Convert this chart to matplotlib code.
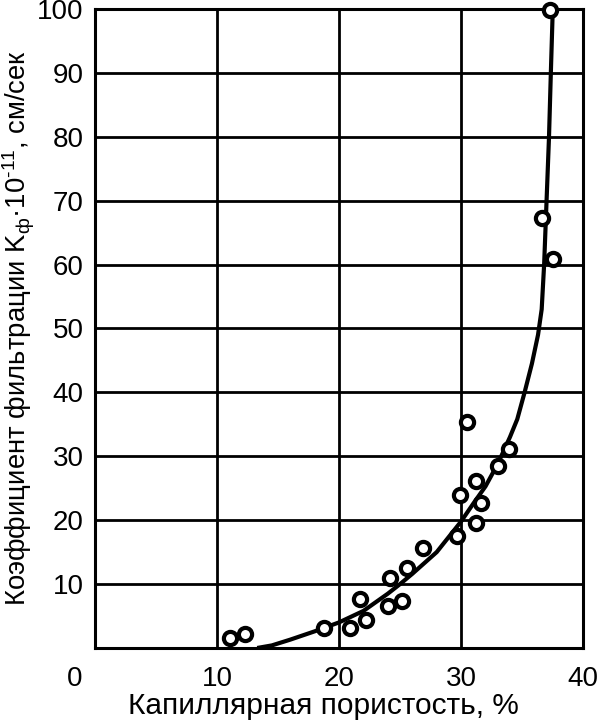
import matplotlib
matplotlib.use("Agg")
import matplotlib.pyplot as plt
from matplotlib.transforms import blended_transform_factory

plt.rcParams['font.family'] = ['Liberation Sans', 'DejaVu Sans']
plt.rcParams['mathtext.fontset'] = 'custom'
plt.rcParams['mathtext.rm'] = 'Liberation Sans'
plt.rcParams['mathtext.it'] = 'Liberation Sans:italic'
plt.rcParams['mathtext.bf'] = 'Liberation Sans:bold'

# measured points: capillary porosity (%) vs filtration coefficient
porosity = [11.1, 12.3, 18.8, 20.9, 21.7, 22.2, 24.2, 24.0, 25.2, 25.6, 26.9,
            29.7, 29.9, 30.5, 31.2, 31.2, 31.6, 33.0, 33.9, 36.6, 37.5, 37.3]
kf = [1.5, 2.2, 3.1, 3.1, 7.6, 4.4, 11.0, 6.5, 7.3, 12.5, 15.6,
      17.6, 23.9, 35.4, 26.1, 19.5, 22.7, 28.5, 31.1, 67.3, 60.8, 99.8]

# fitted curve
curve_x = [13.3, 14.5, 16.0, 18.0, 20.0, 22.0, 24.0, 25.0, 26.0, 28.0, 30.0,
           31.0, 32.0, 33.0, 34.0, 34.6, 35.2, 35.8, 36.3, 36.6, 36.8, 37.0,
           37.2, 37.35, 37.5]
curve_y = [0.0, 0.4, 1.3, 2.6, 4.0, 5.8, 8.5, 10.0, 11.6, 15.0, 19.8,
           22.6, 25.3, 28.8, 33.0, 35.8, 40.0, 44.5, 49.0, 53.0, 60.0, 70.0,
           80.0, 90.0, 99.5]

xticks = [10, 20, 30, 40]
yticks = [10, 20, 30, 40, 50, 60, 70, 80, 90, 100]

xlabel = 'Капиллярная пористость, %'
ylabel = 'Коэффициент фильтрации K$_{\\mathrm{ф}}$·10$^{\\mathrm{\u201011}}$, см/сек'

fig = plt.figure(figsize=(6.0, 7.24), dpi=100)
ax = fig.add_axes([0.158, 0.105, 0.814, 0.8826])

ax.set_xlim(0, 40)
ax.set_ylim(0, 100)
ax.set_xticks(xticks)
ax.set_yticks(yticks)
ax.grid(True, color='black', linewidth=2.0)
ax.set_axisbelow(True)
for s in ax.spines.values():
    s.set_linewidth(2.2)
    s.set_color('black')
ax.tick_params(length=0, labelsize=20, colors='black')
ax.tick_params(axis='x', pad=13)
ax.tick_params(axis='y', pad=8)

ax.plot(curve_x, curve_y, color='black', linewidth=3.0, solid_capstyle='butt',
        solid_joinstyle='round', zorder=3)
ax.plot(porosity, kf, linestyle='none', marker='o', markersize=9.5,
        markerfacecolor='white', markeredgecolor='black', markeredgewidth=3.0,
        zorder=4, clip_on=False)

tr = blended_transform_factory(ax.transData, ax.transAxes)
ax.annotate('0', xy=(-1.65, 0), xycoords=tr, xytext=(0, -13), textcoords='offset points',
            ha='center', va='top', fontsize=20)

fig.text(323 / 600, 1 - 706 / 724, xlabel, ha='center', va='center', fontsize=21.5)
fig.text(19 / 600, 1 - 328 / 724, ylabel, rotation=90, ha='center', va='center',
         fontsize=19.8)

fig.savefig('out.png', dpi=100)
